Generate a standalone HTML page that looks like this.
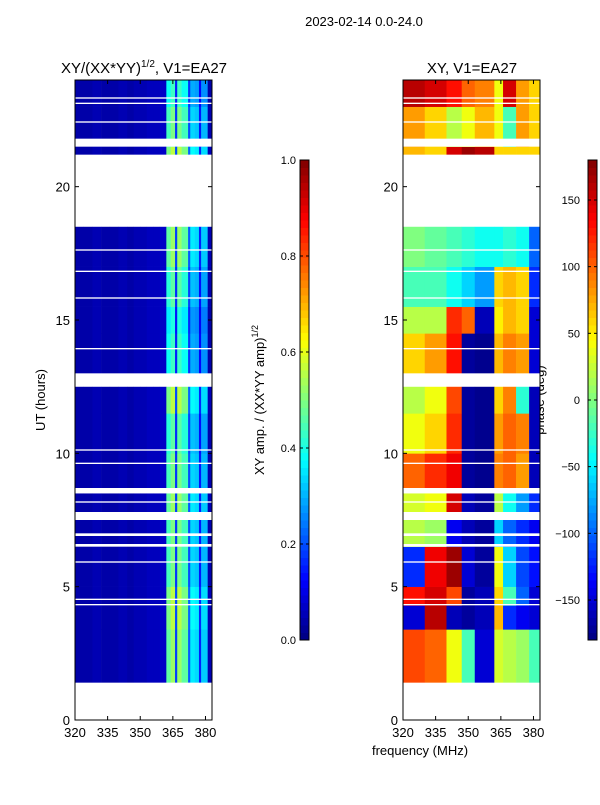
<!DOCTYPE html>
<html><head><meta charset="utf-8"><style>
body{margin:0;background:#fff;font-family:"Liberation Sans","DejaVu Sans",sans-serif}
svg text{font-family:"Liberation Sans","DejaVu Sans",sans-serif}
</style></head><body>
<svg id="chart" width="600" height="800" xmlns="http://www.w3.org/2000/svg">
<text x="364" y="26" font-size="13" text-anchor="middle">2023-02-14 0.0-24.0</text>
<text x="144" y="73" font-size="15" text-anchor="middle">XY/(XX*YY)<tspan font-size="10" dy="-6">1/2</tspan><tspan dy="6">, V1=EA27</tspan></text>
<text x="472" y="73" font-size="15" text-anchor="middle">XY, V1=EA27</text>
<text transform="translate(45,400) rotate(-90)" font-size="13" text-anchor="middle">UT (hours)</text>
<text x="420" y="755" font-size="13" text-anchor="middle">frequency (MHz)</text>
<text transform="translate(264,400) rotate(-90)" font-size="13" text-anchor="middle">XY amp. / (XX*YY amp)<tspan font-size="9" dy="-6">1/2</tspan></text>
<text transform="translate(544,400) rotate(-90)" font-size="13" text-anchor="middle">phase (deg)</text>
<g id="left"></g><g id="right"></g><g id="cb"></g>
</svg>
<script>
// ---- data ----
const freqEdges=[320,324,328,332,336,340,344,347,350,353,356,359,362,364,366,367,369,372,373,375,377,378,381,383];
const ampProfile=[0.04,0.04,0.05,0.04,0.04,0.05,0.04,0.05,0.05,0.06,0.06,0.07,0.55,0.62,0.22,0.62,0.55,0.25,0.42,0.40,0.18,0.38,0.06];
const segStart=[1.4,3.4,4.3,5.0,6.5,7.8,8.7,10.0,11.5,13.0,14.5,15.5,17.0,21.2,21.5,23.0];
const segEnd  =[3.4,4.3,5.0,6.5,7.5,8.5,10.0,11.5,12.5,14.5,15.5,17.0,18.5,21.5,23.0,24.0];
const ampScale=[0.85,0.9,0.9,0.8,0.8,0.85,0.8,0.75,0.9,0.7,0.65,0.75,0.85,0.9,0.8,0.7];
const phaseBands=[320,330,340,347,353,362,366,372,378,383];
const phaseVals=[
 [110,100,40,-20,-150,30,20,10,-20],
 [-150,160,-160,-170,-160,70,-120,-140,-150],
 [130,150,110,-170,-160,60,-20,-100,-150],
 [-120,140,170,-150,-170,40,-60,-110,-130],
 [20,10,-140,-160,-170,-60,-100,-120,-140],
 [30,40,150,-160,-170,20,-40,-80,-120],
 [100,120,140,-170,-175,90,100,80,-160],
 [40,60,120,-170,-175,80,100,90,-160],
 [20,40,110,-170,-175,60,90,-30,-160],
 [60,80,130,-170,-175,70,90,80,-150],
 [20,20,120,100,-160,50,70,60,-150],
 [-20,-20,-40,-60,-80,60,70,60,-120],
 [0,-10,-20,-30,-40,-40,-30,-40,-100],
 [70,60,150,170,160,60,60,60,60],
 [80,60,20,40,70,40,-20,80,60],
 [160,150,130,100,90,40,150,80,60]];
const gapStart=[0,4.3,4.5,5.9,6.5,6.9,7.5,8.15,8.5,9.6,10.1,12.5,13.9,15.8,16.8,17.6,18.5,21.5,22.4,23.1,23.3];
const gapEnd  =[1.4,4.35,4.55,5.95,6.6,7.0,7.8,8.2,8.7,9.65,10.15,13.0,13.95,15.85,16.85,17.65,21.2,21.8,22.45,23.15,23.35];
const yTicks=[0,5,10,15,20];
const xTicks=[320,335,350,365,380];
const ampTicks=[0.0,0.2,0.4,0.6,0.8,1.0];
const phaseTicks=[-150,-100,-50,0,50,100,150];
// ---- helpers ----
const NS="http://www.w3.org/2000/svg";
function jet(v){v=Math.max(0,Math.min(1,v));
 const r=Math.max(0,Math.min(1,1.5-Math.abs(4*v-3))),g=Math.max(0,Math.min(1,1.5-Math.abs(4*v-2))),b=Math.max(0,Math.min(1,1.5-Math.abs(4*v-1)));
 return `rgb(${Math.round(r*255)},${Math.round(g*255)},${Math.round(b*255)})`;}
function mk(p,tag,at){const e=document.createElementNS(NS,tag);for(const k in at)e.setAttribute(k,at[k]);p.appendChild(e);return e;}
const Y0=720,Y1=80;const yS=h=>Y0-(h/24)*(Y0-Y1);
function xS(x0){return f=>x0+(f-320)*(137/63);}
const L=document.getElementById('left'),R=document.getElementById('right'),CB=document.getElementById('cb');
function axes(g,x0,name){
 const x=xS(x0);
 for(const t of yTicks){mk(g,'line',{x1:x0,x2:x0+4,y1:yS(t),y2:yS(t),stroke:'#000'});mk(g,'line',{x1:x0+137,x2:x0+133,y1:yS(t),y2:yS(t),stroke:'#000'});
  const tx=mk(g,'text',{x:x0-5,y:yS(t)+5,'font-size':13,'text-anchor':'end'});tx.textContent=t;
  
  }
 for(const t of xTicks){mk(g,'line',{x1:x(t),x2:x(t),y1:Y0,y2:Y0-4,stroke:'#000'});mk(g,'line',{x1:x(t),x2:x(t),y1:Y1,y2:Y1+4,stroke:'#000'});
  const tx=mk(g,'text',{x:x(t),y:Y0+17,'font-size':13,'text-anchor':'middle'});tx.textContent=t;
  
  }
 const fr=mk(g,'rect',{x:x0,y:Y1,width:137,height:Y0-Y1,fill:'none',stroke:'#000'});
 
 
}
function gaps(g,x0){for(let i=0;i<gapStart.length;i++){
 mk(g,'rect',{x:x0,y:yS(gapEnd[i]),width:137,height:yS(gapStart[i])-yS(gapEnd[i]),fill:'#fff'});}}
// left amplitude
(function(){const x=xS(75);
 for(let s=0;s<segStart.length;s++)for(let c=0;c<ampProfile.length;c++){
  const v=c<12?ampProfile[c]:ampProfile[c]*ampScale[s];
  const r=mk(L,'rect',{x:x(freqEdges[c]),y:yS(segEnd[s]),width:x(freqEdges[c+1])-x(freqEdges[c])+0.3,height:yS(segStart[s])-yS(segEnd[s])+0.3,fill:jet(v)});
  
  }
 gaps(L,75);axes(L,75,'left');})();
// right phase
(function(){const x=xS(403);
 for(let s=0;s<segStart.length;s++)for(let c=0;c<phaseVals[s].length;c++){
  const v=(phaseVals[s][c]+180)/360;
  const r=mk(R,'rect',{x:x(phaseBands[c]),y:yS(segEnd[s]),width:x(phaseBands[c+1])-x(phaseBands[c])+0.3,height:yS(segStart[s])-yS(segEnd[s])+0.3,fill:jet(v)});
  
  }
 gaps(R,403);axes(R,403,'right');})();
// colorbars
function colorbar(x0,name,ticks,lo,hi,fmt){
 const N=64;for(let i=0;i<N;i++){mk(CB,'rect',{x:x0,y:640-(i+1)*480/N,width:9,height:480/N+0.5,fill:jet((i+0.5)/N)});}
 const f=mk(CB,'rect',{x:x0,y:160,width:9,height:480,fill:'none',stroke:'#000'});
 
 
 for(const t of ticks){const y=640-(t-lo)/(hi-lo)*480;
  mk(CB,'line',{x1:x0,x2:x0+3,y1:y,y2:y,stroke:'#000'});mk(CB,'line',{x1:x0+9,x2:x0+6,y1:y,y2:y,stroke:'#000'});
  const tx=mk(CB,'text',{x:x0+(name==='amp-colorbar'?-4:-8),y:y+4,'font-size':11,'text-anchor':'end'});tx.textContent=fmt(t);
  
  }
}
colorbar(300,'amp-colorbar',ampTicks,0,1,t=>t.toFixed(1));
colorbar(588,'phase-colorbar',phaseTicks,-180,180,t=>t<0?'\u2212'+(-t):''+t);
</script>
</body></html>
